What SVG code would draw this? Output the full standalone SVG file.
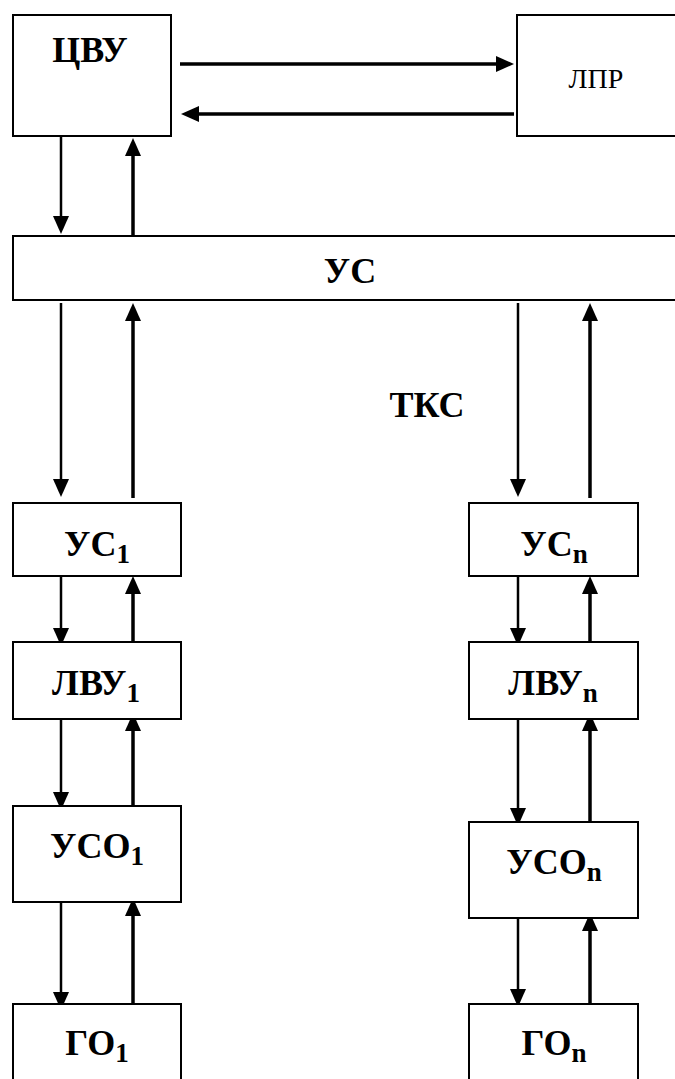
<svg xmlns="http://www.w3.org/2000/svg" width="675" height="1079" viewBox="0 0 675 1079">
  <style>
    .box { fill: #fff; stroke: #000; stroke-width: 2; }
    .lbl { font-family: "Liberation Serif", "Times New Roman", serif; font-weight: bold; font-size: 36px; fill: #000; text-anchor: middle; }
    .lbl-r { font-family: "Liberation Serif", "Times New Roman", serif; font-size: 28px; fill: #000; text-anchor: middle; }
    .sub { font-size: 27px; }
    .dn { fill: none; stroke: #000; stroke-width: 2.5; marker-end: url(#head); }
    .up { fill: none; stroke: #000; stroke-width: 3.5; marker-end: url(#head); }
  </style>
  <defs>
    <marker id="head" markerUnits="userSpaceOnUse" viewBox="0 -8 18 16" refX="0" refY="0" markerWidth="18" markerHeight="16" orient="auto">
      <path d="M0,-8 L18,0 L0,8 z" fill="#000"/>
    </marker>
  </defs>

  <rect width="675" height="1079" fill="#fff"/>

  <!-- connectors: each line stops where its arrowhead begins -->
  <g id="connectors">
    <path class="up" d="M180,64 H496"/>
    <path class="up" d="M514,114 H199"/>

    <path class="dn" d="M61,136 V216"/>
    <path class="up" d="M133,236 V156"/>

    <path class="dn" d="M61,303 V479"/>
    <path class="up" d="M133,498 V321"/>
    <path class="dn" d="M518,303 V479"/>
    <path class="up" d="M590,498 V321"/>

    <path class="dn" d="M61,574 V628"/>
    <path class="up" d="M133,648 V594"/>
    <path class="dn" d="M518,574 V628"/>
    <path class="up" d="M590,648 V594"/>

    <path class="dn" d="M61,712 V792"/>
    <path class="up" d="M133,811 V731"/>
    <path class="dn" d="M518,712 V808"/>
    <path class="up" d="M590,827 V731"/>

    <path class="dn" d="M61,889 V992"/>
    <path class="up" d="M133,1012 V916"/>
    <path class="dn" d="M518,911 V989"/>
    <path class="up" d="M590,1009 V931"/>
  </g>

  <g id="cvu">
    <rect class="box" x="13" y="15" width="158" height="121"/>
    <text class="lbl" x="90" y="62">ЦВУ</text>
  </g>

  <g id="lpr">
    <rect class="box" x="517" y="15" width="170" height="121"/>
    <text class="lbl-r" x="596" y="88">ЛПР</text>
  </g>

  <g id="us">
    <rect class="box" x="13" y="236" width="680" height="64"/>
    <text class="lbl" x="350" y="283">УС</text>
  </g>

  <g id="tks">
    <text class="lbl" x="427" y="417">ТКС</text>
  </g>

  <g id="us1">
    <rect class="box" x="13" y="503" width="168" height="73"/>
    <text class="lbl" x="97" y="556">УС<tspan class="sub" dy="7">1</tspan></text>
  </g>

  <g id="usn">
    <rect class="box" x="469" y="503" width="169" height="73"/>
    <text class="lbl" x="554" y="556">УС<tspan class="sub" dy="7">n</tspan></text>
  </g>

  <g id="lvu1">
    <rect class="box" x="13" y="642" width="168" height="77"/>
    <text class="lbl" x="96" y="695">ЛВУ<tspan class="sub" dy="7">1</tspan></text>
  </g>

  <g id="lvun">
    <rect class="box" x="469" y="642" width="169" height="77"/>
    <text class="lbl" x="553" y="695">ЛВУ<tspan class="sub" dy="7">n</tspan></text>
  </g>

  <g id="uso1">
    <rect class="box" x="13" y="806" width="168" height="96"/>
    <text class="lbl" x="97" y="858">УСО<tspan class="sub" dy="7">1</tspan></text>
  </g>

  <g id="uson">
    <rect class="box" x="469" y="822" width="169" height="96"/>
    <text class="lbl" x="554" y="874">УСО<tspan class="sub" dy="7">n</tspan></text>
  </g>

  <g id="go1">
    <rect class="box" x="13" y="1004" width="168" height="100"/>
    <text class="lbl" x="97" y="1055">ГО<tspan class="sub" dy="7">1</tspan></text>
  </g>

  <g id="gon">
    <rect class="box" x="469" y="1004" width="169" height="100"/>
    <text class="lbl" x="554" y="1055">ГО<tspan class="sub" dy="7">n</tspan></text>
  </g>
</svg>
